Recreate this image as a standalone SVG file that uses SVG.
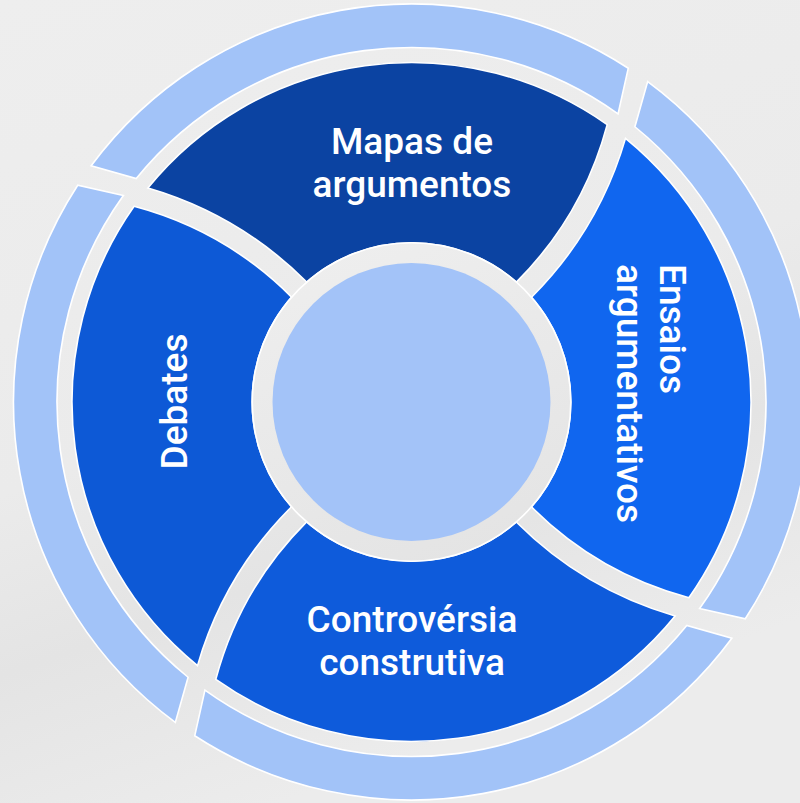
<svg xmlns="http://www.w3.org/2000/svg" width="800" height="803" viewBox="0 0 800 803">
  <defs>
    <linearGradient id="bgShade" x1="0" y1="0" x2="0.35" y2="1">
      <stop offset="0" stop-color="#eeeeee"/>
      <stop offset="0.55" stop-color="#ebebeb"/>
      <stop offset="0.75" stop-color="#e4e4e4"/>
      <stop offset="1" stop-color="#ececec"/>
    </linearGradient>
    <linearGradient id="hubShade" x1="0.3" y1="0" x2="0.7" y2="1">
      <stop offset="0" stop-color="#eeeeee"/>
      <stop offset="1" stop-color="#e4e4e4"/>
    </linearGradient>
    <!-- one quarter of the inner wheel (top), bounded by curved separators -->
    <path id="segment" d="M -263.6,-214.0 A 339.5 339.5 0 0 1 195.7,-277.4 A 350.3 350.3 0 0 1 104.9,-119.9 A 159.3 159.3 0 0 0 -104.8,-120.0 A 371.7 371.7 0 0 0 -263.6,-214.0 Z"/>
    <!-- one quarter of the outer band (top) -->
    <path id="band" d="M -320.35,-236.18 A 398 398 0 0 1 216.77,-333.79 L 206.55,-288.11 A 354.5 354.5 0 0 0 -275.25,-223.40 Z"/>
  </defs>
  <style>
    .band { fill: #a2c3f8; stroke: #ffffff; stroke-width: 1.6; }
    .seg { stroke: #ffffff; stroke-width: 1.6; }
    .label { font-family: Roboto, "Liberation Sans", sans-serif; font-size: 37px; font-weight: 500; fill: #ffffff; }
  </style>

  <rect width="800" height="803" fill="url(#bgShade)"/>

  <g id="outer-band" transform="translate(411.5 402)">
    <use href="#band" class="band"/>
    <use href="#band" class="band" transform="rotate(90)"/>
    <use href="#band" class="band" transform="rotate(180)"/>
    <use href="#band" class="band" transform="rotate(270)"/>
  </g>

  <g id="node-mapas">
    <use href="#segment" class="seg" fill="#0b43a2" transform="translate(411.5 402)"/>
    <text class="label" text-anchor="middle" x="412" y="154">Mapas de</text>
    <text class="label" text-anchor="middle" x="412" y="196.5">argumentos</text>
  </g>

  <g id="node-ensaios">
    <use href="#segment" class="seg" fill="#1066ef" transform="translate(411.5 402) rotate(90)"/>
    <text class="label" transform="translate(660 264) rotate(90)">
      <tspan x="0" y="0">Ensaios</tspan>
      <tspan x="0" y="43">argumentativos</tspan>
    </text>
  </g>

  <g id="node-controversia">
    <use href="#segment" class="seg" fill="#0e5bdb" transform="translate(411.5 402) rotate(180)"/>
    <text class="label" text-anchor="middle" x="412" y="632">Controvérsia</text>
    <text class="label" text-anchor="middle" x="412" y="674.5">construtiva</text>
  </g>

  <g id="node-debates">
    <use href="#segment" class="seg" fill="#0d59d6" transform="translate(411.5 402) rotate(270)"/>
    <text class="label" text-anchor="middle" transform="translate(187 401.5) rotate(-90)">Debates</text>
  </g>

  <g id="hub">
    <circle cx="411.5" cy="402" r="159.3" fill="url(#hubShade)" stroke="#ffffff" stroke-width="1.6"/>
    <circle cx="411.5" cy="402" r="139" fill="#a3c3f8"/>
  </g>
</svg>
